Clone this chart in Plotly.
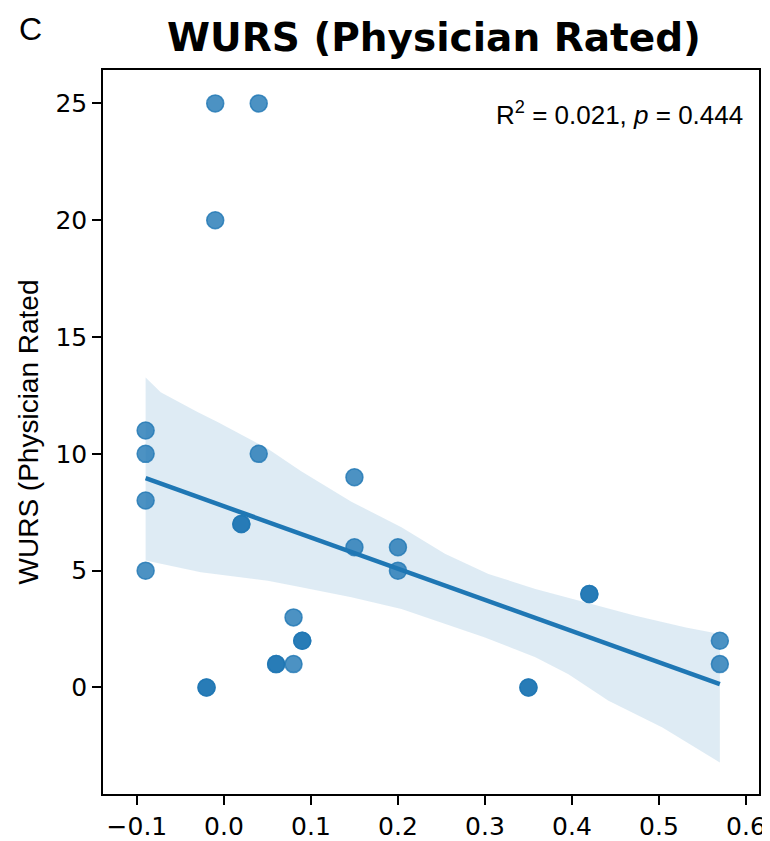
import plotly.graph_objects as go

# scatter data
x_vals = [-0.01, 0.04, -0.01, -0.09, -0.09, -0.09, -0.09, 0.04, 0.02, 0.02,
          0.15, 0.15, 0.20, 0.20, 0.08, 0.09, 0.09, 0.06, 0.06, 0.08,
          -0.02, -0.02, 0.35, 0.35, 0.42, 0.42, 0.57, 0.57]
y_vals = [25, 25, 20, 11, 10, 8, 5, 10, 7, 7,
          9, 6, 6, 5, 3, 2, 2, 1, 1, 1,
          0, 0, 0, 0, 4, 4, 2, 1]

# regression line
fit_x = [-0.09, 0.57]
fit_y = [8.96, 0.14]

# confidence band edges
band_upper_x = [-0.09, -0.0727, -0.0304, -0.0073, 0.0504, 0.0888, 0.1465, 0.204, 0.254, 0.304, 0.358, 0.4156, 0.473, 0.531, 0.57]
band_upper_y = [13.27, 12.64, 11.79, 11.36, 10.22, 9.25, 7.95, 6.86, 5.72, 4.86, 4.22, 3.64, 3.07, 2.57, 2.29]
band_lower_x = [-0.09, -0.0265, 0.0504, 0.0888, 0.1465, 0.204, 0.300, 0.358, 0.396, 0.442, 0.504, 0.57]
band_lower_y = [5.43, 4.93, 4.57, 4.29, 3.86, 3.36, 2.14, 1.29, 0.57, -0.57, -1.71, -3.21]

x_ticks = [-0.1, 0.0, 0.1, 0.2, 0.3, 0.4, 0.5, 0.6]
y_ticks = [0, 5, 10, 15, 20, 25]

C0 = "#1f77b4"
NARROW = "Liberation Sans Narrow, Liberation Sans, Arial"

# the page body has an 8px default margin; size the figure to fit the window
OFF = 8
W, H = 770 - OFF, 841 - OFF
PLOT_H = 724

fig = go.Figure()
fig.add_trace(go.Scatter(
    x=band_upper_x + band_lower_x[::-1],
    y=band_upper_y + band_lower_y[::-1],
    fill="toself", fillcolor="rgba(31,119,180,0.15)",
    line=dict(width=0), mode="lines", hoverinfo="skip", showlegend=False))
fig.add_trace(go.Scatter(
    x=x_vals, y=y_vals, mode="markers",
    marker=dict(size=17, color="rgba(31,119,180,0.8)",
                line=dict(color="rgba(31,119,180,0.8)", width=1.5)),
    showlegend=False))
fig.add_trace(go.Scatter(
    x=fit_x, y=fit_y, mode="lines",
    line=dict(color=C0, width=4.5), showlegend=False))

tickfont = dict(family="DejaVu Sans", size=25, color="black")
axis_common = dict(showgrid=False, zeroline=False, showline=True, mirror=True,
                   linecolor="black", linewidth=1.5, ticks="outside", ticklen=9,
                   tickwidth=1.5, tickcolor="black", tickfont=tickfont,
                   automargin=False)
fig.update_layout(
    width=W, height=H,
    margin=dict(l=103 - OFF, r=11, t=70 - OFF, b=47),
    plot_bgcolor="white", paper_bgcolor="white",
    title=dict(text="<b>WURS (Physician Rated)</b>",
               font=dict(family="DejaVu Sans", size=39, color="black"),
               x=(434 - OFF) / W, xanchor="center",
               y=1 - (37 - OFF) / H, yanchor="middle", automargin=False),
    xaxis=dict(range=[-0.139, 0.615], tickvals=x_ticks, tickformat=".1f", **axis_common),
    yaxis=dict(range=[-4.56, 26.43], tickvals=y_ticks,
               title=dict(text="WURS (Physician Rated",
                          font=dict(family=NARROW, size=28, color="black"),
                          standoff=9),
               **axis_common),
    annotations=[
        dict(text="R<sup>2</sup> = 0.021, <i>p</i> = 0.444",
             xref="paper", yref="paper", x=0.979, y=(793 - 112) / PLOT_H,
             xanchor="right", yanchor="middle", showarrow=False,
             font=dict(family=NARROW, size=26, color="black")),
        dict(text="C", xref="paper", yref="paper",
             x=(30 - 103) / 656, y=1 + (70 - OFF - 1) / PLOT_H,
             xanchor="center", yanchor="top", showarrow=False,
             font=dict(family=NARROW, size=32, color="black")),
    ],
)

fig.write_html("out.html")
